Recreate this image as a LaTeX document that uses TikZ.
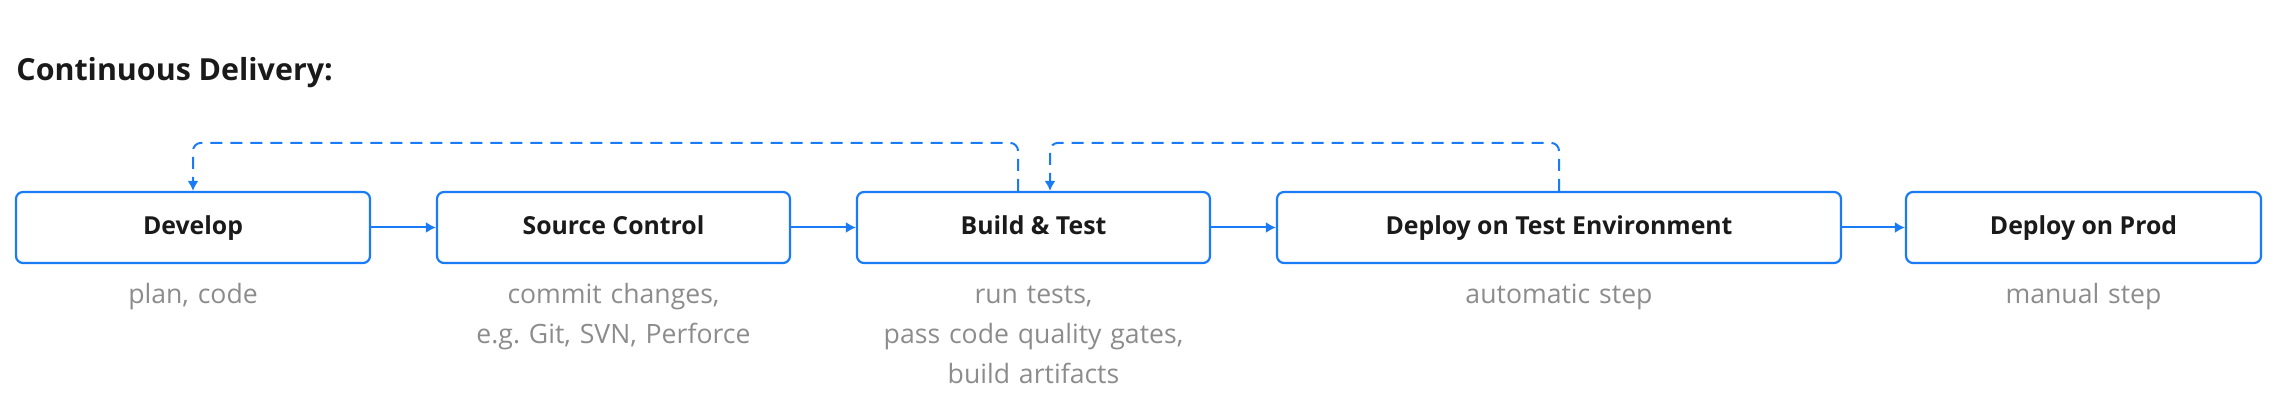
\documentclass[tikz,border=0pt]{standalone}
\usepackage{fontspec}
\setmainfont{Open Sans}
\usetikzlibrary{arrows.meta}
\definecolor{cdblue}{HTML}{1A7BF7}
\definecolor{cdgray}{HTML}{8C8C8C}
\definecolor{cdtext}{HTML}{1A1A1A}
\begin{document}
\begin{tikzpicture}[x=0.5pt, y=-0.5pt,
    stage/.style = {draw=cdblue, line width=1.1pt, rounded corners=3.5pt, minimum height=35.5pt, inner sep=0pt, text height=8.4pt, text depth=1.2pt, text=cdtext, font=\fontsize{12.4}{14}\selectfont\bfseries},
    note/.style = {text=cdgray, text width=240pt, align=center, anchor=north, inner sep=0pt, font=\fontsize{13.3}{20}\selectfont, execute at begin node=\strut},
    flow/.style = {cdblue, line width=1pt, -{Latex[length=5pt, width=5.5pt]}},
    back/.style = {flow, dash pattern=on 6pt off 4pt, rounded corners=4pt}]
    \useasboundingbox (0,0) rectangle (2278,416);
    \node (title) at (16,73) [anchor=west, inner sep=0pt, text=cdtext, font=\fontsize{15.2}{18}\selectfont\bfseries]{Continuous Delivery:};
    % stages
    \node (develop) at (193,227.5) [stage, minimum width=177pt]{Develop};
    \node (source) at (613.5,227.5) [stage, minimum width=176.5pt]{Source Control};
    \node (build) at (1033.5,227.5) [stage, minimum width=176.5pt]{Build \& Test};
    \node (deploytest) at (1559,227.5) [stage, minimum width=282pt]{Deploy on Test Environment};
    \node (deployprod) at (2083.5,227.5) [stage, minimum width=177.5pt]{Deploy on Prod};
    % notes under the stages
    \node (developnote) at (193,275) [note]{plan, code};
    \node (sourcenote) at (613.5,275) [note]{commit changes,\\e.g.\ Git, SVN, Perforce};
    \node (buildnote) at (1033.5,275) [note]{run tests,\\pass code quality gates,\\build artifacts};
    \node (deploytestnote) at (1559,275) [note]{automatic step};
    \node (deployprodnote) at (2083.5,275) [note]{manual step};
    % forward flow
    \draw[flow] (develop) -- (source);
    \draw[flow] (source) -- (build);
    \draw[flow] (build) -- (deploytest);
    \draw[flow] (deploytest) -- (deployprod);
    % feedback loops
    \draw[back] ([xshift=-7.75pt]build.north) -- ++(0,-48) -| (develop.north);
    \draw[back] (deploytest.north) -- ++(0,-48) -| ([xshift=8.25pt]build.north);
\end{tikzpicture}
\end{document}
